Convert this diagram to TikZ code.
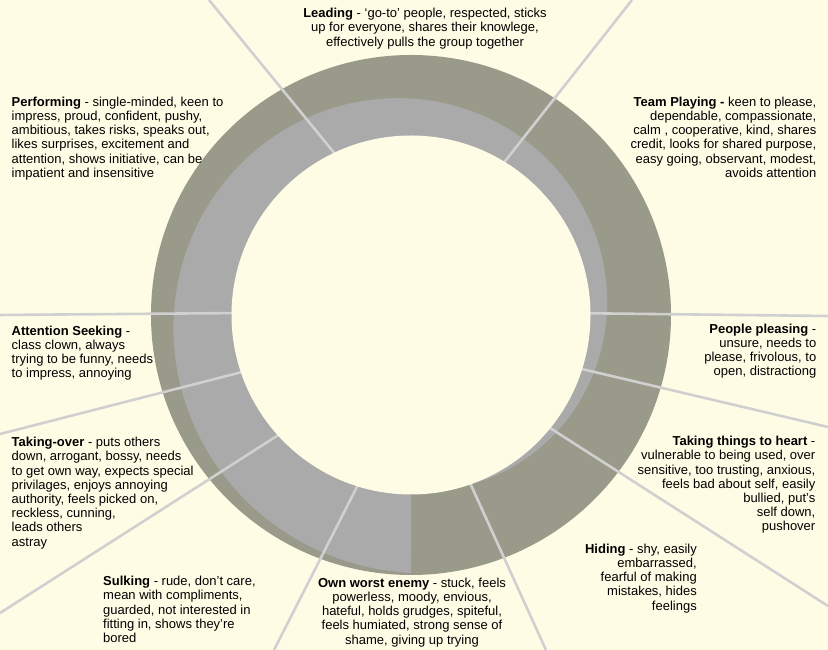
\documentclass[tikz,border=0pt]{standalone}
\usepackage{fontspec}
\setmainfont{Liberation Sans}
\definecolor{paper}{RGB}{255,252,229}
\definecolor{ringolive}{RGB}{154,154,138}
\definecolor{ringgrey}{RGB}{170,170,170}
\definecolor{divgrey}{RGB}{208,208,208}

\begin{document}
\begin{tikzpicture}[x=1pt, y=1pt,
    trait/.style={inner sep=0pt, font=\fontsize{13}{14.2}\selectfont, text=black},
    lefttrait/.style={trait, align=left, anchor=north west},
    righttrait/.style={trait, align=right, anchor=north east},
    midtrait/.style={trait, align=center, anchor=north},
    divider/.style={draw=divgrey, line width=2.6pt}]
    \fill[paper] (0,0) rectangle (828,650);
    \useasboundingbox (0,0) rectangle (828,650);

    \coordinate (hub) at (411,335);
    \fill[ringolive] (hub) circle (260);
    \begin{scope}[shift={(hub)}]
        \fill[ringgrey] (0,0) -- plot[domain=-68:270, samples=150]
            (\x:{180+(\x+68)/338*78}) -- cycle;
    \end{scope}

    \coordinate (lead-out) at (209,650);   \coordinate (lead-in) at (340,490);
    \coordinate (team-out) at (632,650);   \coordinate (team-in) at (495,476);
    \coordinate (please-out) at (828,334); \coordinate (please-in) at (580,336.8);
    \coordinate (heart-out) at (828,223);  \coordinate (heart-in) at (575,282.6);
    \coordinate (hide-out) at (828,44);    \coordinate (hide-in) at (540,228.4);
    \coordinate (enemy-out) at (546,0);    \coordinate (enemy-in) at (465.5,177);
    \coordinate (sulk-out) at (274,0);     \coordinate (sulk-in) at (362,173);
    \coordinate (take-out) at (0,37);      \coordinate (take-in) at (288,221.1);
    \coordinate (seek-out) at (0,216);     \coordinate (seek-in) at (250,280);
    \coordinate (perf-out) at (0,335);     \coordinate (perf-in) at (245,337);

    \draw[divider] (lead-out) -- (lead-in);
    \draw[divider] (team-out) -- (team-in);
    \draw[divider] (please-out) -- (please-in);
    \draw[divider] (heart-out) -- (heart-in);
    \draw[divider] (hide-out) -- (hide-in);
    \draw[divider] (enemy-out) -- (enemy-in);
    \draw[divider] (sulk-out) -- (sulk-in);
    \draw[divider] (take-out) -- (take-in);
    \draw[divider] (seek-out) -- (seek-in);
    \draw[divider] (perf-out) -- (perf-in);

    \fill[paper] (hub) circle (179.5);

    \node[midtrait] (leading) at (425,641.9)
        {\textbf{Leading} - ‘go-to’ people, respected, sticks\\
         up for everyone, shares their knowlege,\\
         effectively pulls the group together};
    \node[righttrait] (teamplay) at (816.5,553.4)
        {\textbf{Team Playing -} keen to please,\\
         dependable, compassionate,\\
         calm , cooperative, kind, shares\\
         credit, looks for shared purpose,\\
         easy going, observant, modest,\\
         avoids attention};
    \node[lefttrait] (performing) at (11.5,553.4)
        {\textbf{Performing} - single-minded, keen to\\
         impress, proud, confident, pushy,\\
         ambitious, takes risks, speaks out,\\
         likes surprises, excitement and\\
         attention, shows initiative, can be\\
         impatient and insensitive};
    \node[lefttrait] (attention) at (11.5,324.4)
        {\textbf{Attention Seeking} -\\
         class clown, always\\
         trying to be funny, needs\\
         to impress, annoying};
    \node[righttrait] (pleasing) at (816.5,326.4)
        {\textbf{People pleasing} -\\
         unsure, needs to\\
         please, frivolous, to\\
         open, distractiong};
    \node[lefttrait] (takeover) at (11.5,212.9)
        {\textbf{Taking-over} - puts others\\
         down, arrogant, bossy, needs\\
         to get own way, expects special\\
         privilages, enjoys annoying\\
         authority, feels picked on,\\
         reckless, cunning,\\
         leads others\\
         astray};
    \node[righttrait] (toheart) at (815.5,213.9)
        {\textbf{Taking things to heart} -\\
         vulnerable to being used, over\\
         sensitive, too trusting, anxious,\\
         feels bad about self, easily\\
         bullied, put’s\\
         self down,\\
         pushover};
    \node[righttrait] (hiding) at (697,106.4)
        {\textbf{Hiding} - shy, easily\\
         embarrassed,\\
         fearful of making\\
         mistakes, hides\\
         feelings};
    \node[lefttrait] (sulking) at (103,73.9)
        {\textbf{Sulking} - rude, don’t care,\\
         mean with compliments,\\
         guarded, not interested in\\
         fitting in, shows they’re\\
         bored};
    \node[midtrait] (ownenemy) at (412,72.4)
        {\textbf{Own worst enemy} - stuck, feels\\
         powerless, moody, envious,\\
         hateful, holds grudges, spiteful,\\
         feels humiated, strong sense of\\
         shame, giving up trying};
\end{tikzpicture}
\end{document}
